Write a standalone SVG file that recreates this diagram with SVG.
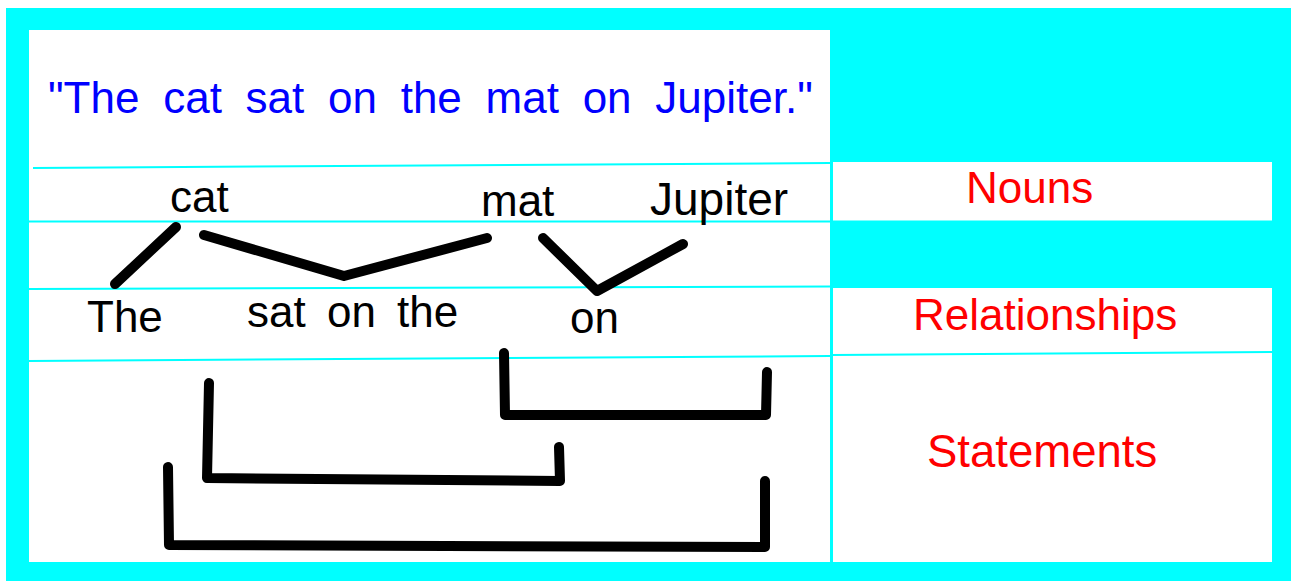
<svg xmlns="http://www.w3.org/2000/svg" width="1291" height="581" viewBox="0 0 1291 581">
<style>
.panel{fill:#ffffff}
.sep{stroke:#00ffff;stroke-width:2;fill:none}
.word{font-family:"Liberation Sans",Arial,sans-serif;font-size:44px;fill:#000000;word-spacing:9px}
.sentence{font-family:"Liberation Sans",Arial,sans-serif;font-size:44px;fill:#0000ff;word-spacing:11.5px}
.label{font-family:"Liberation Sans",Arial,sans-serif;font-size:44px;fill:#ff0000}
.link{stroke:#000000;stroke-width:10;fill:none;stroke-linecap:round;stroke-linejoin:round}
</style>
<rect x="0" y="0" width="1291" height="581" fill="#ffffff"/>
<rect x="6" y="8" width="1285" height="573" fill="#00ffff"/>
<g id="panels">
<rect class="panel" x="29" y="30" width="801" height="532"/>
<rect class="panel" x="833" y="162" width="439" height="59"/>
<rect class="panel" x="833" y="288" width="439" height="274"/>
<line class="sep" x1="33" y1="168" x2="830" y2="163"/>
<line class="sep" x1="29" y1="221.5" x2="1272" y2="221.5"/>
<line class="sep" x1="29" y1="289" x2="830" y2="286.5"/>
<line class="sep" x1="29" y1="361" x2="830" y2="356"/>
<line class="sep" x1="833" y1="355" x2="1272" y2="352"/>
<line class="sep" x1="831.5" y1="162" x2="831.5" y2="562"/>
</g>
<g id="sentence"><text class="sentence" x="48" y="113">"The cat sat on the mat on Jupiter."</text></g>
<g id="noun-cat"><text class="word" x="170" y="212">cat</text></g>
<g id="noun-mat"><text class="word" x="481" y="216">mat</text></g>
<g id="noun-jupiter"><text class="word" x="650" y="215" style="font-size:46px">Jupiter</text></g>
<g id="rel-the"><text class="word" x="87" y="332">The</text></g>
<g id="rel-sat-on-the"><text class="word" x="247" y="327">sat on the</text></g>
<g id="rel-on"><text class="word" x="570" y="333">on</text></g>
<g id="label-nouns"><text class="label" x="966" y="203">Nouns</text></g>
<g id="label-relationships"><text class="label" x="913" y="330">Relationships</text></g>
<g id="label-statements"><text class="label" x="927" y="467" style="font-size:45.5px">Statements</text></g>
<g id="connectors">
<polyline class="link" points="176,227 115,284"/>
<polyline class="link" points="204,235 344,276 487,238"/>
<polyline class="link" points="543,238 597,291 683,244"/>
<polyline class="link" points="504,353 505,415 766,415 767,372"/>
<polyline class="link" points="209,383 207,478 560,481 559,447"/>
<polyline class="link" points="168,467 169,545 765,547 765,481"/>
</g>
</svg>
